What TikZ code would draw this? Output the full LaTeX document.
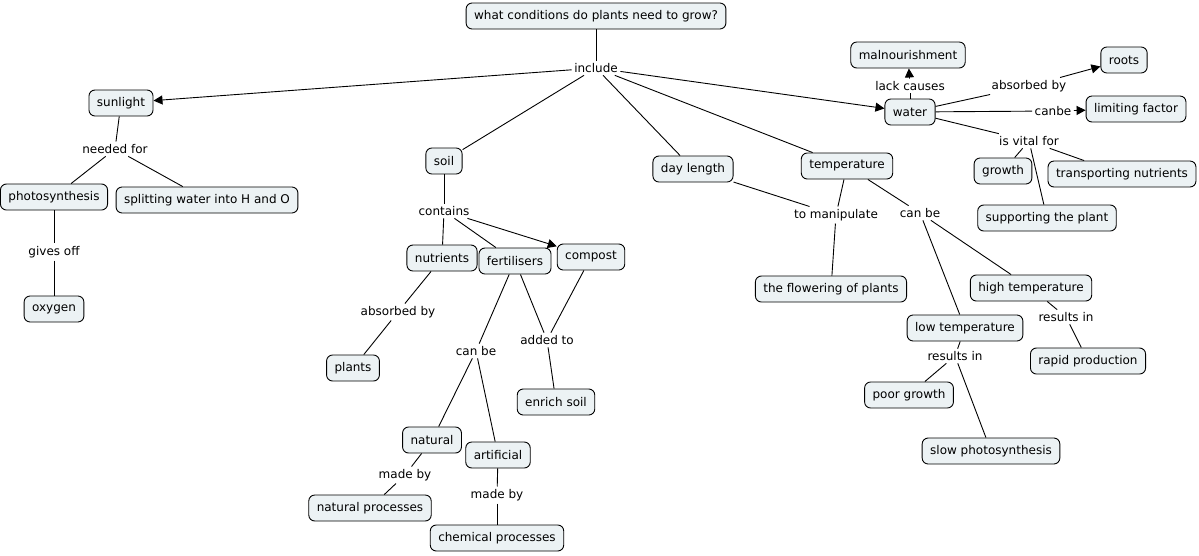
\documentclass[tikz,border=0pt]{standalone}
\usepackage{fontspec}
\setmainfont{DejaVu Sans}
\usetikzlibrary{arrows.meta}
\definecolor{cfill}{RGB}{236,242,244}
\tikzset{
  concept/.style={draw=black, fill=cfill, rounded corners=6pt, line width=0.9pt,
    inner xsep=8pt, minimum height=26pt, font=\fontsize{12}{14}\selectfont},
  phrase/.style={inner sep=2.5pt, font=\fontsize{12}{14}\selectfont},
  link/.style={draw=black, line width=0.9pt},
  arr/.style={link, -{Triangle[length=9pt,width=9pt]}}
}
\begin{document}
\begin{tikzpicture}[x=1pt,y=-1pt]
\useasboundingbox (0,0) rectangle (1199,555);
% concepts
\node[concept] (top) at (596,16) {what conditions do plants need to grow?};
\node[concept] (sun) at (121,103) {sunlight};
\node[concept] (photo) at (54,197) {photosynthesis};
\node[concept] (split) at (207,200) {splitting water into H and O};
\node[concept] (oxy) at (54,309) {oxygen};
\node[concept] (soil) at (444,161) {soil};
\node[concept] (nutr) at (442,258) {nutrients};
\node[concept] (fert) at (515,261) {fertilisers};
\node[concept] (comp) at (591,257) {compost};
\node[concept] (plants) at (353,368) {plants};
\node[concept] (enrich) at (556,402) {enrich soil};
\node[concept] (natural) at (432,440) {natural};
\node[concept] (artif) at (498,455) {artificial};
\node[concept] (natproc) at (370,508) {natural processes};
\node[concept] (chemproc) at (497,538) {chemical processes};
\node[concept] (day) at (693,169) {day length};
\node[concept] (temp) at (847,166) {temperature};
\node[concept] (flower) at (831,289) {the flowering of plants};
\node[concept] (high) at (1031,288) {high temperature};
\node[concept] (low) at (965,328) {low temperature};
\node[concept] (rapid) at (1088,361) {rapid production};
\node[concept] (poor) at (909,395) {poor growth};
\node[concept] (slow) at (991,451) {slow photosynthesis};
\node[concept] (water) at (910,112) {water};
\node[concept] (malnour) at (908,55) {malnourishment};
\node[concept] (roots) at (1124,60) {roots};
\node[concept] (limit) at (1136,109) {limiting factor};
\node[concept] (growth) at (1003,171) {growth};
\node[concept] (transp) at (1122,174) {transporting nutrients};
\node[concept] (support) at (1047,218) {supporting the plant};
% linking phrases
\node[phrase] (include) at (596,68) {include};
\node[phrase] (needed) at (115,149) {needed for};
\node[phrase] (gives) at (54,252) {gives off};
\node[phrase] (contains) at (444,211) {contains};
\node[phrase] (absorbA) at (398,312) {absorbed by};
\node[phrase] (canbeA) at (476,351) {can be};
\node[phrase] (added) at (547,340) {added to};
\node[phrase] (madeA) at (405,475) {made by};
\node[phrase] (madeB) at (497,495) {made by};
\node[phrase] (manip) at (836,215) {to manipulate};
\node[phrase] (canbeB) at (920,213) {can be};
\node[phrase] (resA) at (1066,317) {results in};
\node[phrase] (resB) at (955,356) {results in};
\node[phrase] (lack) at (910,86) {lack causes};
\node[phrase] (absorbB) at (1029,86) {absorbed by};
\node[phrase] (canbeC) at (1053,111) {canbe};
\node[phrase] (vital) at (1029,141) {is vital for};
% connectors
\draw[link] (top) -- (include);
\draw[arr] (include) -- (sun);
\draw[link] (include) -- (soil);
\draw[link] (include) -- (day);
\draw[link] (include) -- (temp);
\draw[arr] (include) -- (water);
\draw[link] (sun) -- (needed);
\draw[link] (needed) -- (photo);
\draw[link] (needed) -- (split);
\draw[link] (photo) -- (gives);
\draw[link] (gives) -- (oxy);
\draw[link] (soil) -- (contains);
\draw[link] (contains) -- (nutr);
\draw[link] (contains) -- (fert);
\draw[arr] (contains) -- (comp);
\draw[link] (nutr) -- (absorbA);
\draw[link] (absorbA) -- (plants);
\draw[link] (fert) -- (canbeA);
\draw[link] (canbeA) -- (natural);
\draw[link] (canbeA) -- (artif);
\draw[link] (fert) -- (added);
\draw[link] (comp) -- (added);
\draw[link] (added) -- (enrich);
\draw[link] (natural) -- (madeA);
\draw[link] (madeA) -- (natproc);
\draw[link] (artif) -- (madeB);
\draw[link] (madeB) -- (chemproc);
\draw[link] (day) -- (manip);
\draw[link] (temp) -- (manip);
\draw[link] (manip) -- (flower);
\draw[link] (temp) -- (canbeB);
\draw[link] (canbeB) -- (high);
\draw[link] (canbeB) -- (low);
\draw[link] (high) -- (resA);
\draw[link] (resA) -- (rapid);
\draw[link] (low) -- (resB);
\draw[link] (resB) -- (poor);
\draw[link] (resB) -- (slow);
\draw[link] (water) -- (lack);
\draw[arr] (lack) -- (malnour);
\draw[link] (water) -- (absorbB);
\draw[arr] (absorbB) -- (roots);
\draw[link] (water) -- (canbeC);
\draw[arr] (canbeC) -- (limit);
\draw[link] (water) -- (vital);
\draw[link] (vital) -- (growth);
\draw[link] (vital) -- (transp);
\draw[link] (vital) -- (support);
\end{tikzpicture}
\end{document}
